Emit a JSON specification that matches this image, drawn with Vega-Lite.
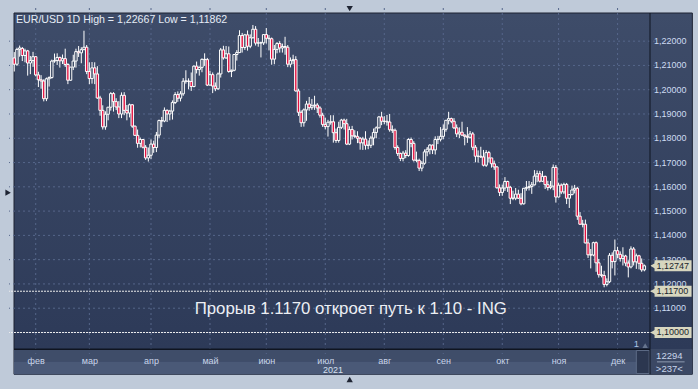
{
"$schema":"https://vega.github.io/schema/vega-lite/v6.json",
"width":646,"height":346,
"padding":{"left":9,"top":8,"right":43,"bottom":35},
"autosize":{"type":"none"},
"background":"#bfcad9",
"config":{"view":{"stroke":null},"font":"Liberation Sans"},
"resolve":{"axis":{"x":"independent","y":"independent"}},
"data":{"values":[{}]},
"datasets":{
"candles":[
{"i":0,"d":"2021-01-20","o":1.2131,"h":1.2155,"l":1.2075,"c":1.2105},
{"i":1,"d":"2021-01-21","o":1.2105,"h":1.2173,"l":1.2098,"c":1.2166},
{"i":2,"d":"2021-01-22","o":1.2166,"h":1.2182,"l":1.2136,"c":1.2172},
{"i":3,"d":"2021-01-25","o":1.2170,"h":1.2176,"l":1.2118,"c":1.2141},
{"i":4,"d":"2021-01-26","o":1.2141,"h":1.2169,"l":1.2113,"c":1.2160},
{"i":5,"d":"2021-01-27","o":1.2160,"h":1.2164,"l":1.2058,"c":1.2110},
{"i":6,"d":"2021-01-28","o":1.2110,"h":1.2139,"l":1.2064,"c":1.2120},
{"i":7,"d":"2021-01-29","o":1.2120,"h":1.2156,"l":1.2094,"c":1.2136},
{"i":8,"d":"2021-02-01","o":1.2136,"h":1.2138,"l":1.2055,"c":1.2061},
{"i":9,"d":"2021-02-02","o":1.2061,"h":1.2074,"l":1.2011,"c":1.2041},
{"i":10,"d":"2021-02-03","o":1.2041,"h":1.2060,"l":1.2004,"c":1.2036},
{"i":11,"d":"2021-02-04","o":1.2036,"h":1.2043,"l":1.1952,"c":1.1963},
{"i":12,"d":"2021-02-05","o":1.1963,"h":1.2050,"l":1.1953,"c":1.2045},
{"i":13,"d":"2021-02-08","o":1.2045,"h":1.2055,"l":1.2013,"c":1.2050},
{"i":14,"d":"2021-02-09","o":1.2050,"h":1.2124,"l":1.2046,"c":1.2118},
{"i":15,"d":"2021-02-10","o":1.2118,"h":1.2149,"l":1.2111,"c":1.2120},
{"i":16,"d":"2021-02-11","o":1.2120,"h":1.2150,"l":1.2102,"c":1.2133},
{"i":17,"d":"2021-02-12","o":1.2133,"h":1.2136,"l":1.2091,"c":1.2119},
{"i":18,"d":"2021-02-15","o":1.2119,"h":1.2145,"l":1.2106,"c":1.2128},
{"i":19,"d":"2021-02-16","o":1.2128,"h":1.2169,"l":1.2094,"c":1.2104},
{"i":20,"d":"2021-02-17","o":1.2104,"h":1.2109,"l":1.2023,"c":1.2039},
{"i":21,"d":"2021-02-18","o":1.2039,"h":1.2094,"l":1.2037,"c":1.2093},
{"i":22,"d":"2021-02-19","o":1.2093,"h":1.2144,"l":1.2081,"c":1.2118},
{"i":23,"d":"2021-02-22","o":1.2118,"h":1.2169,"l":1.2091,"c":1.2157},
{"i":24,"d":"2021-02-23","o":1.2157,"h":1.2180,"l":1.2135,"c":1.2152},
{"i":25,"d":"2021-02-24","o":1.2152,"h":1.2175,"l":1.2109,"c":1.2165},
{"i":26,"d":"2021-02-25","o":1.2165,"h":1.2243,"l":1.2163,"c":1.2175},
{"i":27,"d":"2021-02-26","o":1.2175,"h":1.2184,"l":1.2064,"c":1.2075},
{"i":28,"d":"2021-03-01","o":1.2075,"h":1.2113,"l":1.2023,"c":1.2046},
{"i":29,"d":"2021-03-02","o":1.2046,"h":1.2114,"l":1.2025,"c":1.2090},
{"i":30,"d":"2021-03-03","o":1.2090,"h":1.2113,"l":1.2023,"c":1.2065},
{"i":31,"d":"2021-03-04","o":1.2065,"h":1.2097,"l":1.1963,"c":1.1966},
{"i":32,"d":"2021-03-05","o":1.1966,"h":1.1975,"l":1.1893,"c":1.1915},
{"i":33,"d":"2021-03-08","o":1.1915,"h":1.1936,"l":1.1836,"c":1.1847},
{"i":34,"d":"2021-03-09","o":1.1847,"h":1.1911,"l":1.1835,"c":1.1899},
{"i":35,"d":"2021-03-10","o":1.1899,"h":1.1929,"l":1.1874,"c":1.1928},
{"i":36,"d":"2021-03-11","o":1.1928,"h":1.1990,"l":1.1914,"c":1.1984},
{"i":37,"d":"2021-03-12","o":1.1984,"h":1.1990,"l":1.1910,"c":1.1951},
{"i":38,"d":"2021-03-15","o":1.1951,"h":1.1965,"l":1.1916,"c":1.1929},
{"i":39,"d":"2021-03-16","o":1.1929,"h":1.1953,"l":1.1883,"c":1.1900},
{"i":40,"d":"2021-03-17","o":1.1900,"h":1.1989,"l":1.1883,"c":1.1977},
{"i":41,"d":"2021-03-18","o":1.1977,"h":1.1990,"l":1.1895,"c":1.1915},
{"i":42,"d":"2021-03-19","o":1.1915,"h":1.1937,"l":1.1874,"c":1.1904},
{"i":43,"d":"2021-03-22","o":1.1904,"h":1.1943,"l":1.1886,"c":1.1938},
{"i":44,"d":"2021-03-23","o":1.1938,"h":1.1941,"l":1.1843,"c":1.1850},
{"i":45,"d":"2021-03-24","o":1.1850,"h":1.1852,"l":1.1811,"c":1.1812},
{"i":46,"d":"2021-03-25","o":1.1812,"h":1.1836,"l":1.1761,"c":1.1779},
{"i":47,"d":"2021-03-26","o":1.1779,"h":1.1803,"l":1.1762,"c":1.1795},
{"i":48,"d":"2021-03-29","o":1.1795,"h":1.1797,"l":1.1758,"c":1.1763},
{"i":49,"d":"2021-03-30","o":1.1763,"h":1.1772,"l":1.1711,"c":1.1719},
{"i":50,"d":"2021-03-31","o":1.1719,"h":1.1762,"l":1.1704,"c":1.1730},
{"i":51,"d":"2021-04-01","o":1.1730,"h":1.1795,"l":1.1715,"c":1.1776},
{"i":52,"d":"2021-04-02","o":1.1776,"h":1.1790,"l":1.1740,"c":1.1762},
{"i":53,"d":"2021-04-05","o":1.1762,"h":1.1826,"l":1.1743,"c":1.1813},
{"i":54,"d":"2021-04-06","o":1.1813,"h":1.1877,"l":1.1802,"c":1.1873},
{"i":55,"d":"2021-04-07","o":1.1873,"h":1.1888,"l":1.1846,"c":1.1871},
{"i":56,"d":"2021-04-08","o":1.1871,"h":1.1927,"l":1.1866,"c":1.1915},
{"i":57,"d":"2021-04-09","o":1.1915,"h":1.1919,"l":1.1867,"c":1.1900},
{"i":58,"d":"2021-04-12","o":1.1900,"h":1.1917,"l":1.1874,"c":1.1912},
{"i":59,"d":"2021-04-13","o":1.1912,"h":1.1956,"l":1.1877,"c":1.1947},
{"i":60,"d":"2021-04-14","o":1.1947,"h":1.1990,"l":1.1941,"c":1.1980},
{"i":61,"d":"2021-04-15","o":1.1980,"h":1.1993,"l":1.1950,"c":1.1965},
{"i":62,"d":"2021-04-16","o":1.1965,"h":1.1994,"l":1.1952,"c":1.1983},
{"i":63,"d":"2021-04-19","o":1.1983,"h":1.2048,"l":1.1975,"c":1.2035},
{"i":64,"d":"2021-04-20","o":1.2035,"h":1.2080,"l":1.2025,"c":1.2036},
{"i":65,"d":"2021-04-21","o":1.2036,"h":1.2047,"l":1.2002,"c":1.2034},
{"i":66,"d":"2021-04-22","o":1.2034,"h":1.2071,"l":1.1995,"c":1.2013},
{"i":67,"d":"2021-04-23","o":1.2013,"h":1.2100,"l":1.2010,"c":1.2097},
{"i":68,"d":"2021-04-26","o":1.2097,"h":1.2116,"l":1.2067,"c":1.2083},
{"i":69,"d":"2021-04-27","o":1.2083,"h":1.2096,"l":1.2058,"c":1.2092},
{"i":70,"d":"2021-04-28","o":1.2092,"h":1.2129,"l":1.2072,"c":1.2125},
{"i":71,"d":"2021-04-29","o":1.2125,"h":1.2150,"l":1.2098,"c":1.2124},
{"i":72,"d":"2021-04-30","o":1.2124,"h":1.2131,"l":1.2015,"c":1.2019},
{"i":73,"d":"2021-05-03","o":1.2019,"h":1.2078,"l":1.2017,"c":1.2062},
{"i":74,"d":"2021-05-04","o":1.2062,"h":1.2071,"l":1.1986,"c":1.2015},
{"i":75,"d":"2021-05-05","o":1.2015,"h":1.2030,"l":1.1994,"c":1.2004},
{"i":76,"d":"2021-05-06","o":1.2004,"h":1.2071,"l":1.1999,"c":1.2065},
{"i":77,"d":"2021-05-07","o":1.2065,"h":1.2172,"l":1.2050,"c":1.2164},
{"i":78,"d":"2021-05-10","o":1.2164,"h":1.2181,"l":1.2124,"c":1.2131},
{"i":79,"d":"2021-05-11","o":1.2131,"h":1.2180,"l":1.2127,"c":1.2148},
{"i":80,"d":"2021-05-12","o":1.2148,"h":1.2178,"l":1.2070,"c":1.2075},
{"i":81,"d":"2021-05-13","o":1.2075,"h":1.2083,"l":1.2052,"c":1.2080},
{"i":82,"d":"2021-05-14","o":1.2080,"h":1.2146,"l":1.2076,"c":1.2145},
{"i":83,"d":"2021-05-17","o":1.2145,"h":1.2163,"l":1.2120,"c":1.2153},
{"i":84,"d":"2021-05-18","o":1.2153,"h":1.2245,"l":1.2151,"c":1.2223},
{"i":85,"d":"2021-05-19","o":1.2223,"h":1.2234,"l":1.2153,"c":1.2174},
{"i":86,"d":"2021-05-20","o":1.2174,"h":1.2230,"l":1.2164,"c":1.2226},
{"i":87,"d":"2021-05-21","o":1.2226,"h":1.2244,"l":1.2161,"c":1.2179},
{"i":88,"d":"2021-05-24","o":1.2179,"h":1.2228,"l":1.2171,"c":1.2214},
{"i":89,"d":"2021-05-25","o":1.2214,"h":1.22667,"l":1.2211,"c":1.2249},
{"i":90,"d":"2021-05-26","o":1.2249,"h":1.2262,"l":1.2182,"c":1.2192},
{"i":91,"d":"2021-05-27","o":1.2192,"h":1.2213,"l":1.2177,"c":1.2193},
{"i":92,"d":"2021-05-28","o":1.2193,"h":1.2198,"l":1.2133,"c":1.2193},
{"i":93,"d":"2021-05-31","o":1.2193,"h":1.2229,"l":1.2184,"c":1.2227},
{"i":94,"d":"2021-06-01","o":1.2227,"h":1.2254,"l":1.2190,"c":1.2212},
{"i":95,"d":"2021-06-02","o":1.2212,"h":1.2225,"l":1.2162,"c":1.2210},
{"i":96,"d":"2021-06-03","o":1.2210,"h":1.2215,"l":1.2103,"c":1.2126},
{"i":97,"d":"2021-06-04","o":1.2126,"h":1.2184,"l":1.2105,"c":1.2166},
{"i":98,"d":"2021-06-07","o":1.2166,"h":1.2196,"l":1.2150,"c":1.2190},
{"i":99,"d":"2021-06-08","o":1.2190,"h":1.2200,"l":1.2153,"c":1.2172},
{"i":100,"d":"2021-06-09","o":1.2172,"h":1.2190,"l":1.2153,"c":1.2178},
{"i":101,"d":"2021-06-10","o":1.2178,"h":1.2218,"l":1.2144,"c":1.2175},
{"i":102,"d":"2021-06-11","o":1.2175,"h":1.2184,"l":1.2093,"c":1.2105},
{"i":103,"d":"2021-06-14","o":1.2105,"h":1.2133,"l":1.2092,"c":1.2120},
{"i":104,"d":"2021-06-15","o":1.2120,"h":1.2144,"l":1.2105,"c":1.2124},
{"i":105,"d":"2021-06-16","o":1.2124,"h":1.2138,"l":1.1992,"c":1.1995},
{"i":106,"d":"2021-06-17","o":1.1995,"h":1.2004,"l":1.1892,"c":1.1907},
{"i":107,"d":"2021-06-18","o":1.1907,"h":1.1915,"l":1.1847,"c":1.1864},
{"i":108,"d":"2021-06-21","o":1.1864,"h":1.1923,"l":1.1848,"c":1.1917},
{"i":109,"d":"2021-06-22","o":1.1917,"h":1.1954,"l":1.1872,"c":1.1941},
{"i":110,"d":"2021-06-23","o":1.1941,"h":1.1970,"l":1.1913,"c":1.1926},
{"i":111,"d":"2021-06-24","o":1.1926,"h":1.1962,"l":1.1917,"c":1.1934},
{"i":112,"d":"2021-06-25","o":1.1934,"h":1.1975,"l":1.1917,"c":1.1937},
{"i":113,"d":"2021-06-28","o":1.1937,"h":1.1945,"l":1.1904,"c":1.1925},
{"i":114,"d":"2021-06-29","o":1.1925,"h":1.1932,"l":1.1885,"c":1.1895},
{"i":115,"d":"2021-06-30","o":1.1895,"h":1.1905,"l":1.1847,"c":1.1857},
{"i":116,"d":"2021-07-01","o":1.1857,"h":1.1885,"l":1.1837,"c":1.1848},
{"i":117,"d":"2021-07-02","o":1.1848,"h":1.1876,"l":1.1807,"c":1.1866},
{"i":118,"d":"2021-07-05","o":1.1866,"h":1.1895,"l":1.1856,"c":1.1868},
{"i":119,"d":"2021-07-06","o":1.1868,"h":1.1895,"l":1.1782,"c":1.1823},
{"i":120,"d":"2021-07-07","o":1.1823,"h":1.1840,"l":1.1781,"c":1.1791},
{"i":121,"d":"2021-07-08","o":1.1791,"h":1.1868,"l":1.1782,"c":1.1845},
{"i":122,"d":"2021-07-09","o":1.1845,"h":1.1880,"l":1.1838,"c":1.1875},
{"i":123,"d":"2021-07-12","o":1.1875,"h":1.1881,"l":1.1836,"c":1.1860},
{"i":124,"d":"2021-07-13","o":1.1860,"h":1.1880,"l":1.1772,"c":1.1776},
{"i":125,"d":"2021-07-14","o":1.1776,"h":1.1849,"l":1.1772,"c":1.1836},
{"i":126,"d":"2021-07-15","o":1.1836,"h":1.1851,"l":1.1795,"c":1.1810},
{"i":127,"d":"2021-07-16","o":1.1810,"h":1.1833,"l":1.1801,"c":1.1808},
{"i":128,"d":"2021-07-19","o":1.1808,"h":1.1829,"l":1.1780,"c":1.1800},
{"i":129,"d":"2021-07-20","o":1.1800,"h":1.1805,"l":1.1753,"c":1.1781},
{"i":130,"d":"2021-07-21","o":1.1781,"h":1.1806,"l":1.1752,"c":1.1797},
{"i":131,"d":"2021-07-22","o":1.1797,"h":1.1829,"l":1.1753,"c":1.1771},
{"i":132,"d":"2021-07-23","o":1.1771,"h":1.1791,"l":1.1755,"c":1.1771},
{"i":133,"d":"2021-07-26","o":1.1771,"h":1.1810,"l":1.1760,"c":1.1801},
{"i":134,"d":"2021-07-27","o":1.1801,"h":1.1840,"l":1.1771,"c":1.1824},
{"i":135,"d":"2021-07-28","o":1.1824,"h":1.1849,"l":1.1800,"c":1.1843},
{"i":136,"d":"2021-07-29","o":1.1843,"h":1.1892,"l":1.1841,"c":1.1888},
{"i":137,"d":"2021-07-30","o":1.1888,"h":1.1909,"l":1.1854,"c":1.1870},
{"i":138,"d":"2021-08-02","o":1.1870,"h":1.1891,"l":1.1858,"c":1.1870},
{"i":139,"d":"2021-08-03","o":1.1870,"h":1.1896,"l":1.1852,"c":1.1867},
{"i":140,"d":"2021-08-04","o":1.1867,"h":1.1900,"l":1.1827,"c":1.1835},
{"i":141,"d":"2021-08-05","o":1.1835,"h":1.1853,"l":1.1822,"c":1.1833},
{"i":142,"d":"2021-08-06","o":1.1833,"h":1.1840,"l":1.1753,"c":1.1762},
{"i":143,"d":"2021-08-09","o":1.1762,"h":1.1771,"l":1.1727,"c":1.1737},
{"i":144,"d":"2021-08-10","o":1.1737,"h":1.1741,"l":1.1706,"c":1.1717},
{"i":145,"d":"2021-08-11","o":1.1717,"h":1.1748,"l":1.1705,"c":1.1739},
{"i":146,"d":"2021-08-12","o":1.1739,"h":1.1751,"l":1.1718,"c":1.1729},
{"i":147,"d":"2021-08-13","o":1.1729,"h":1.1800,"l":1.1724,"c":1.1795},
{"i":148,"d":"2021-08-16","o":1.1795,"h":1.1803,"l":1.1763,"c":1.1779},
{"i":149,"d":"2021-08-17","o":1.1779,"h":1.1788,"l":1.1704,"c":1.1710},
{"i":150,"d":"2021-08-18","o":1.1710,"h":1.1745,"l":1.1701,"c":1.1709},
{"i":151,"d":"2021-08-19","o":1.1709,"h":1.1716,"l":1.1665,"c":1.1677},
{"i":152,"d":"2021-08-20","o":1.1677,"h":1.1706,"l":1.1664,"c":1.1697},
{"i":153,"d":"2021-08-23","o":1.1697,"h":1.1754,"l":1.1691,"c":1.1744},
{"i":154,"d":"2021-08-24","o":1.1744,"h":1.1764,"l":1.1726,"c":1.1755},
{"i":155,"d":"2021-08-25","o":1.1755,"h":1.1776,"l":1.1734,"c":1.1772},
{"i":156,"d":"2021-08-26","o":1.1772,"h":1.1774,"l":1.1735,"c":1.1752},
{"i":157,"d":"2021-08-27","o":1.1752,"h":1.1808,"l":1.1733,"c":1.1795},
{"i":158,"d":"2021-08-30","o":1.1795,"h":1.1810,"l":1.1776,"c":1.1796},
{"i":159,"d":"2021-08-31","o":1.1796,"h":1.1846,"l":1.1787,"c":1.1808},
{"i":160,"d":"2021-09-01","o":1.1808,"h":1.1857,"l":1.1796,"c":1.1837},
{"i":161,"d":"2021-09-02","o":1.1837,"h":1.1873,"l":1.1827,"c":1.1874},
{"i":162,"d":"2021-09-03","o":1.1874,"h":1.1909,"l":1.1857,"c":1.1881},
{"i":163,"d":"2021-09-06","o":1.1881,"h":1.1885,"l":1.1862,"c":1.1870},
{"i":164,"d":"2021-09-07","o":1.1870,"h":1.1883,"l":1.1838,"c":1.1843},
{"i":165,"d":"2021-09-08","o":1.1843,"h":1.1857,"l":1.1805,"c":1.1818},
{"i":166,"d":"2021-09-09","o":1.1818,"h":1.1845,"l":1.1801,"c":1.1825},
{"i":167,"d":"2021-09-10","o":1.1825,"h":1.1868,"l":1.1809,"c":1.1813},
{"i":168,"d":"2021-09-13","o":1.1813,"h":1.1816,"l":1.1771,"c":1.1808},
{"i":169,"d":"2021-09-14","o":1.1808,"h":1.1846,"l":1.1781,"c":1.1804},
{"i":170,"d":"2021-09-15","o":1.1804,"h":1.1830,"l":1.1799,"c":1.1818},
{"i":171,"d":"2021-09-16","o":1.1818,"h":1.1826,"l":1.1751,"c":1.1763},
{"i":172,"d":"2021-09-17","o":1.1763,"h":1.1772,"l":1.1701,"c":1.1726},
{"i":173,"d":"2021-09-20","o":1.1726,"h":1.1750,"l":1.1700,"c":1.1726},
{"i":174,"d":"2021-09-21","o":1.1726,"h":1.1765,"l":1.1719,"c":1.1723},
{"i":175,"d":"2021-09-22","o":1.1723,"h":1.1752,"l":1.1684,"c":1.1689},
{"i":176,"d":"2021-09-23","o":1.1689,"h":1.1751,"l":1.1682,"c":1.1741},
{"i":177,"d":"2021-09-24","o":1.1741,"h":1.1748,"l":1.1701,"c":1.1719},
{"i":178,"d":"2021-09-27","o":1.1719,"h":1.1719,"l":1.1679,"c":1.1695},
{"i":179,"d":"2021-09-28","o":1.1695,"h":1.1708,"l":1.1670,"c":1.1682},
{"i":180,"d":"2021-09-29","o":1.1682,"h":1.1686,"l":1.1593,"c":1.1596},
{"i":181,"d":"2021-09-30","o":1.1596,"h":1.1610,"l":1.1562,"c":1.1577},
{"i":182,"d":"2021-10-01","o":1.1577,"h":1.1609,"l":1.1563,"c":1.1595},
{"i":183,"d":"2021-10-04","o":1.1595,"h":1.1640,"l":1.1583,"c":1.1622},
{"i":184,"d":"2021-10-05","o":1.1622,"h":1.1625,"l":1.1579,"c":1.1598},
{"i":185,"d":"2021-10-06","o":1.1598,"h":1.1604,"l":1.1529,"c":1.1553},
{"i":186,"d":"2021-10-07","o":1.1553,"h":1.1584,"l":1.1545,"c":1.1553},
{"i":187,"d":"2021-10-08","o":1.1553,"h":1.1595,"l":1.1545,"c":1.1570},
{"i":188,"d":"2021-10-11","o":1.1570,"h":1.1588,"l":1.1550,"c":1.1553},
{"i":189,"d":"2021-10-12","o":1.1553,"h":1.1574,"l":1.1524,"c":1.1530},
{"i":190,"d":"2021-10-13","o":1.1530,"h":1.1595,"l":1.1527,"c":1.1594},
{"i":191,"d":"2021-10-14","o":1.1594,"h":1.1624,"l":1.1584,"c":1.1597},
{"i":192,"d":"2021-10-15","o":1.1597,"h":1.1624,"l":1.1585,"c":1.1601},
{"i":193,"d":"2021-10-18","o":1.1601,"h":1.1620,"l":1.1571,"c":1.1608},
{"i":194,"d":"2021-10-19","o":1.1608,"h":1.1669,"l":1.1606,"c":1.1644},
{"i":195,"d":"2021-10-20","o":1.1644,"h":1.1667,"l":1.1619,"c":1.1654},
{"i":196,"d":"2021-10-21","o":1.1654,"h":1.1666,"l":1.1618,"c":1.1623},
{"i":197,"d":"2021-10-22","o":1.1623,"h":1.1665,"l":1.1620,"c":1.1643},
{"i":198,"d":"2021-10-25","o":1.1643,"h":1.1646,"l":1.1591,"c":1.1609},
{"i":199,"d":"2021-10-26","o":1.1609,"h":1.1625,"l":1.1585,"c":1.1597},
{"i":200,"d":"2021-10-27","o":1.1597,"h":1.1624,"l":1.1590,"c":1.1603},
{"i":201,"d":"2021-10-28","o":1.1603,"h":1.1692,"l":1.1586,"c":1.1680},
{"i":202,"d":"2021-10-29","o":1.1680,"h":1.1690,"l":1.1535,"c":1.1558},
{"i":203,"d":"2021-11-01","o":1.1558,"h":1.1617,"l":1.1556,"c":1.1607},
{"i":204,"d":"2021-11-02","o":1.1607,"h":1.1614,"l":1.1570,"c":1.1579},
{"i":205,"d":"2021-11-03","o":1.1579,"h":1.1617,"l":1.1570,"c":1.1610},
{"i":206,"d":"2021-11-04","o":1.1610,"h":1.1616,"l":1.1529,"c":1.1553},
{"i":207,"d":"2021-11-05","o":1.1553,"h":1.1570,"l":1.1513,"c":1.1568},
{"i":208,"d":"2021-11-08","o":1.1568,"h":1.1605,"l":1.1565,"c":1.1587},
{"i":209,"d":"2021-11-09","o":1.1587,"h":1.1608,"l":1.1573,"c":1.1594},
{"i":210,"d":"2021-11-10","o":1.1594,"h":1.1600,"l":1.1464,"c":1.1479},
{"i":211,"d":"2021-11-11","o":1.1479,"h":1.1496,"l":1.1443,"c":1.1446},
{"i":212,"d":"2021-11-12","o":1.1446,"h":1.1464,"l":1.1433,"c":1.1446},
{"i":213,"d":"2021-11-15","o":1.1446,"h":1.1465,"l":1.1367,"c":1.1369},
{"i":214,"d":"2021-11-16","o":1.1369,"h":1.1386,"l":1.1307,"c":1.1320},
{"i":215,"d":"2021-11-17","o":1.1320,"h":1.1344,"l":1.1264,"c":1.1319},
{"i":216,"d":"2021-11-18","o":1.1319,"h":1.1374,"l":1.1314,"c":1.1370},
{"i":217,"d":"2021-11-19","o":1.1370,"h":1.1375,"l":1.1250,"c":1.1287},
{"i":218,"d":"2021-11-22","o":1.1287,"h":1.1303,"l":1.1226,"c":1.1238},
{"i":219,"d":"2021-11-23","o":1.1238,"h":1.1275,"l":1.1227,"c":1.1235},
{"i":220,"d":"2021-11-24","o":1.1235,"h":1.1254,"l":1.11862,"c":1.1198},
{"i":221,"d":"2021-11-25","o":1.1198,"h":1.1223,"l":1.1190,"c":1.1209},
{"i":222,"d":"2021-11-26","o":1.1209,"h":1.1327,"l":1.1204,"c":1.1318},
{"i":223,"d":"2021-11-29","o":1.1318,"h":1.1330,"l":1.1264,"c":1.1292},
{"i":224,"d":"2021-11-30","o":1.1292,"h":1.1383,"l":1.1235,"c":1.1337},
{"i":225,"d":"2021-12-01","o":1.1337,"h":1.1353,"l":1.1306,"c":1.1322},
{"i":226,"d":"2021-12-02","o":1.1322,"h":1.1334,"l":1.1292,"c":1.1305},
{"i":227,"d":"2021-12-03","o":1.1305,"h":1.1351,"l":1.1276,"c":1.1315},
{"i":228,"d":"2021-12-06","o":1.1315,"h":1.1320,"l":1.1273,"c":1.1286},
{"i":229,"d":"2021-12-07","o":1.1286,"h":1.1297,"l":1.1227,"c":1.1270},
{"i":230,"d":"2021-12-08","o":1.1270,"h":1.1355,"l":1.1264,"c":1.1344},
{"i":231,"d":"2021-12-09","o":1.1344,"h":1.1352,"l":1.1276,"c":1.1291},
{"i":232,"d":"2021-12-10","o":1.1291,"h":1.1325,"l":1.1262,"c":1.1316},
{"i":233,"d":"2021-12-13","o":1.1316,"h":1.1320,"l":1.1260,"c":1.1285},
{"i":234,"d":"2021-12-14","o":1.1285,"h":1.1305,"l":1.1250,"c":1.1258},
{"i":235,"d":"2021-12-15","o":1.1258,"h":1.1280,"l":1.1252,"c":1.12747}
],
"ylev":[{"v":1.10},{"v":1.11},{"v":1.12},{"v":1.13},{"v":1.14},{"v":1.15},{"v":1.16},{"v":1.17},{"v":1.18},{"v":1.19},{"v":1.20},{"v":1.21},{"v":1.22}],
"ylab":[{"v":1.11,"lab":"1,11000"},{"v":1.12,"lab":"1,12000"},{"v":1.13,"lab":"1,13000"},{"v":1.14,"lab":"1,14000"},{"v":1.15,"lab":"1,15000"},{"v":1.16,"lab":"1,16000"},{"v":1.17,"lab":"1,17000"},{"v":1.18,"lab":"1,18000"},{"v":1.19,"lab":"1,19000"},{"v":1.20,"lab":"1,20000"},{"v":1.21,"lab":"1,21000"},{"v":1.22,"lab":"1,22000"}],
"months":[{"i":8,"m":"фев"},{"i":28,"m":"мар"},{"i":51,"m":"апр"},{"i":73,"m":"май"},{"i":94,"m":"июн"},{"i":116,"m":"июл"},{"i":138,"m":"авг"},{"i":160,"m":"сен"},{"i":182,"m":"окт"},{"i":203,"m":"ноя"},{"i":225,"m":"дек"}],
"levels":[{"p":1.117},{"p":1.10}],
"tags":[{"p":1.12747,"lab":"1,12747"},{"p":1.117,"lab":"1,11700"},{"p":1.10,"lab":"1,10000"}]
},
"layer":[
{"mark":{"type":"rect","stroke":"#1c2333","strokeWidth":1,"fill":{"gradient":"linear","x1":0,"y1":0,"x2":0,"y2":1,"stops":[{"offset":0,"color":"#3e4c69"},{"offset":0.93,"color":"#2d3a58"},{"offset":1,"color":"#2d3a58"}]}},
 "encoding":{"x":{"datum":-0.1,"type":"quantitative","scale":{"domain":[-0.1,237.1],"nice":false,"zero":false},"axis":null},"x2":{"datum":252.9},
 "y":{"datum":1.0828,"type":"quantitative","scale":{"domain":[1.0932,1.2316],"nice":false,"zero":false},"axis":null},"y2":{"datum":1.2316}}},
{"mark":{"type":"rect","fill":"#3f4d69"},
 "encoding":{"x":{"datum":-0.1,"type":"quantitative","scale":{"domain":[-0.1,237.1],"nice":false,"zero":false},"axis":null},"x2":{"datum":237.1},
 "y":{"datum":1.0880,"type":"quantitative","scale":{"domain":[1.0932,1.2316],"nice":false,"zero":false},"axis":null},"y2":{"datum":1.0932}}},
{"mark":{"type":"rect","fill":"#4a5977"},
 "encoding":{"x":{"datum":-0.1,"type":"quantitative","scale":{"domain":[-0.1,237.1],"nice":false,"zero":false},"axis":null},"x2":{"datum":237.1},
 "y":{"datum":1.0828,"type":"quantitative","scale":{"domain":[1.0932,1.2316],"nice":false,"zero":false},"axis":null},"y2":{"datum":1.0880}}},
{"mark":{"type":"rect","fill":"#3b4864"},
 "encoding":{"x":{"datum":237.1,"type":"quantitative","scale":{"domain":[-0.1,237.1],"nice":false,"zero":false},"axis":null},"x2":{"datum":252.9},
 "y":{"datum":1.0828,"type":"quantitative","scale":{"domain":[1.0932,1.2316],"nice":false,"zero":false},"axis":null},"y2":{"datum":1.0932}}},
{"mark":{"type":"rect","fill":"#2c3750","stroke":"#5d6b86","strokeWidth":1},
 "encoding":{"x":{"datum":232.0,"type":"quantitative","scale":{"domain":[-0.1,237.1],"nice":false,"zero":false},"axis":null},"x2":{"datum":236.8},
 "y":{"datum":1.0831,"type":"quantitative","scale":{"domain":[1.0932,1.2316],"nice":false,"zero":false},"axis":null},"y2":{"datum":1.0926}}},
{"data":{"name":"ylev"},"mark":{"type":"rule","color":"#56668a","strokeDash":[2,3],"strokeWidth":1},
 "encoding":{"y":{"field":"v","type":"quantitative","scale":{"domain":[1.0932,1.2316],"nice":false,"zero":false},"axis":null}}},
{"data":{"name":"months"},"mark":{"type":"rule","color":"#56668a","strokeDash":[2,3],"strokeWidth":1},
 "encoding":{"x":{"field":"i","type":"quantitative","scale":{"domain":[-0.1,237.1],"nice":false,"zero":false},"axis":null}}},
{"data":{"name":"levels"},"mark":{"type":"rule","color":"#eeeeee","strokeDash":[2,1],"strokeWidth":1},
 "encoding":{"y":{"field":"p","type":"quantitative","scale":{"domain":[1.0932,1.2316],"nice":false,"zero":false},"axis":null}}},
{"data":{"name":"candles"},"mark":{"type":"rule","color":"#ffffff","strokeWidth":1},
 "encoding":{"x":{"field":"i","type":"quantitative","scale":{"domain":[-0.1,237.1],"nice":false,"zero":false},"axis":null},
 "y":{"field":"l","type":"quantitative","scale":{"domain":[1.0932,1.2316],"nice":false,"zero":false},"axis":null},"y2":{"field":"h"}}},
{"data":{"name":"candles"},"mark":{"type":"bar","width":2.4,"stroke":"#ffffff","strokeWidth":1},
 "encoding":{"x":{"field":"i","type":"quantitative","scale":{"domain":[-0.1,237.1],"nice":false,"zero":false},
   "axis":{"orient":"bottom","values":[8,28,51,73,94,116,138,160,182,203,225],"labelExpr":"datum.value==8?'фев':datum.value==28?'мар':datum.value==51?'апр':datum.value==73?'май':datum.value==94?'июн':datum.value==116?'июл':datum.value==138?'авг':datum.value==160?'сен':datum.value==182?'окт':datum.value==203?'ноя':'дек'","grid":false,"ticks":false,"tickSize":0,"domain":false,"labelPadding":2,"labelFontSize":9,"labelColor":"#c9d5ea","labelFont":"Liberation Sans","labelBaseline":"top","labelFlush":false,"labelOverlap":false,"title":null,"zindex":1}},
 "y":{"field":"o","type":"quantitative","scale":{"domain":[1.0932,1.2316],"nice":false,"zero":false},"axis":null},
 "y2":{"field":"c"},
 "fill":{"condition":{"test":"datum.c < datum.o","value":"#e3103f"},"value":"#36445f"}}},
{"mark":{"type":"text","text":"Прорыв 1.1170 откроет путь к 1.10 - ING","fontSize":16.8,"font":"Liberation Sans","color":"#eceff4","align":"center","baseline":"alphabetic"},
 "encoding":{"x":{"datum":125.5,"type":"quantitative","scale":{"domain":[-0.1,237.1],"nice":false,"zero":false},"axis":null},
 "y":{"datum":1.1075,"type":"quantitative","scale":{"domain":[1.0932,1.2316],"nice":false,"zero":false},"axis":null}}},
{"mark":{"type":"text","text":"EUR/USD 1D High = 1,22667 Low = 1,11862","fontSize":10.6,"font":"Liberation Sans","color":"#e6ecf6","align":"left","baseline":"alphabetic"},
 "encoding":{"x":{"datum":0.66,"type":"quantitative","scale":{"domain":[-0.1,237.1],"nice":false,"zero":false},"axis":null},
 "y":{"datum":1.2276,"type":"quantitative","scale":{"domain":[1.0932,1.2316],"nice":false,"zero":false},"axis":null}}},
{"data":{"name":"ylab"},"mark":{"type":"text","fontSize":9,"font":"Liberation Sans","color":"#cddcf2","align":"left","baseline":"middle"},
 "encoding":{"x":{"datum":238.6,"type":"quantitative","scale":{"domain":[-0.1,237.1],"nice":false,"zero":false},"axis":null},
 "y":{"field":"v","type":"quantitative","scale":{"domain":[1.0932,1.2316],"nice":false,"zero":false},"axis":null},"text":{"field":"lab"}}},
{"data":{"name":"tags"},"mark":{"type":"bar","size":11,"fill":"#d7d6bf","orient":"horizontal"},
 "encoding":{"x":{"datum":238.8,"type":"quantitative","scale":{"domain":[-0.1,237.1],"nice":false,"zero":false},"axis":null},"x2":{"datum":252.6},
 "y":{"field":"p","type":"quantitative","scale":{"domain":[1.0932,1.2316],"nice":false,"zero":false},"axis":null}}},
{"data":{"name":"tags"},"mark":{"type":"point","shape":"triangle-left","size":45,"filled":true,"fill":"#d7d6bf","opacity":1,"strokeWidth":0},
 "encoding":{"x":{"datum":238.3,"type":"quantitative","scale":{"domain":[-0.1,237.1],"nice":false,"zero":false},"axis":null},
 "y":{"field":"p","type":"quantitative","scale":{"domain":[1.0932,1.2316],"nice":false,"zero":false},"axis":null}}},
{"data":{"name":"tags"},"mark":{"type":"text","fontSize":9,"font":"Liberation Sans","color":"#1a1f2e","align":"left","baseline":"middle"},
 "encoding":{"x":{"datum":239.5,"type":"quantitative","scale":{"domain":[-0.1,237.1],"nice":false,"zero":false},"axis":null},
 "y":{"field":"p","type":"quantitative","scale":{"domain":[1.0932,1.2316],"nice":false,"zero":false},"axis":null},"text":{"field":"lab"}}},
{"mark":{"type":"rule","color":"#0f1420","strokeWidth":1},
 "encoding":{"x":{"datum":237.1,"type":"quantitative","scale":{"domain":[-0.1,237.1],"nice":false,"zero":false},"axis":null},
 "y":{"datum":1.0828,"type":"quantitative","scale":{"domain":[1.0932,1.2316],"nice":false,"zero":false},"axis":null},"y2":{"datum":1.2316}}},
{"mark":{"type":"rule","color":"#0f1420","strokeWidth":1.5},
 "encoding":{"x":{"datum":-0.1,"type":"quantitative","scale":{"domain":[-0.1,237.1],"nice":false,"zero":false},"axis":null},"x2":{"datum":237.1},
 "y":{"datum":1.0931,"type":"quantitative","scale":{"domain":[1.0932,1.2316],"nice":false,"zero":false},"axis":null}}},
{"mark":{"type":"rule","color":"#8d9ab0","strokeWidth":1},
 "encoding":{"x":{"datum":239.7,"type":"quantitative","scale":{"domain":[-0.1,237.1],"nice":false,"zero":false},"axis":null},"x2":{"datum":250.0},
 "y":{"datum":1.0879,"type":"quantitative","scale":{"domain":[1.0932,1.2316],"nice":false,"zero":false},"axis":null}}},
{"mark":{"type":"text","text":"12294","fontSize":9.5,"font":"Liberation Sans","color":"#c8d5ea","align":"center","baseline":"middle"},
 "encoding":{"x":{"datum":244.3,"type":"quantitative","scale":{"domain":[-0.1,237.1],"nice":false,"zero":false},"axis":null},
 "y":{"datum":1.0905,"type":"quantitative","scale":{"domain":[1.0932,1.2316],"nice":false,"zero":false},"axis":null}}},
{"mark":{"type":"text","text":">237<","fontSize":9.5,"font":"Liberation Sans","color":"#c8d5ea","align":"center","baseline":"middle"},
 "encoding":{"x":{"datum":244.3,"type":"quantitative","scale":{"domain":[-0.1,237.1],"nice":false,"zero":false},"axis":null},
 "y":{"datum":1.0851,"type":"quantitative","scale":{"domain":[1.0932,1.2316],"nice":false,"zero":false},"axis":null}}},
{"mark":{"type":"text","text":"2021","fontSize":9,"font":"Liberation Sans","color":"#d6e0f0","align":"right","baseline":"middle"},
 "encoding":{"x":{"datum":122.6,"type":"quantitative","scale":{"domain":[-0.1,237.1],"nice":false,"zero":false},"axis":null},
 "y":{"datum":1.0844,"type":"quantitative","scale":{"domain":[1.0932,1.2316],"nice":false,"zero":false},"axis":null}}},
{"mark":{"type":"text","text":"1","fontSize":9.5,"font":"Liberation Sans","color":"#a9c4e6","align":"center","baseline":"middle"},
 "encoding":{"x":{"datum":232.0,"type":"quantitative","scale":{"domain":[-0.1,237.1],"nice":false,"zero":false},"axis":null},
 "y":{"datum":1.0952,"type":"quantitative","scale":{"domain":[1.0932,1.2316],"nice":false,"zero":false},"axis":null}}},
{"mark":{"type":"point","shape":"triangle-up","size":30,"filled":true,"fill":"#66748e","opacity":1,"strokeWidth":0},
 "encoding":{"x":{"datum":235.3,"type":"quantitative","scale":{"domain":[-0.1,237.1],"nice":false,"zero":false},"axis":null},
 "y":{"datum":1.0946,"type":"quantitative","scale":{"domain":[1.0932,1.2316],"nice":false,"zero":false},"axis":null}}},
{"mark":{"type":"point","shape":"triangle-down","size":40,"filled":true,"fill":"#1e2433","opacity":1,"strokeWidth":0},
 "encoding":{"x":{"datum":125.1,"type":"quantitative","scale":{"domain":[-0.1,237.1],"nice":false,"zero":false},"axis":null},
 "y":{"datum":1.2334,"type":"quantitative","scale":{"domain":[1.0932,1.2316],"nice":false,"zero":false},"axis":null}}},
{"mark":{"type":"point","shape":"triangle-right","size":40,"filled":true,"fill":"#1e2433","opacity":1,"strokeWidth":0},
 "encoding":{"x":{"datum":-2.3,"type":"quantitative","scale":{"domain":[-0.1,237.1],"nice":false,"zero":false},"axis":null},
 "y":{"datum":1.1576,"type":"quantitative","scale":{"domain":[1.0932,1.2316],"nice":false,"zero":false},"axis":null}}},
{"mark":{"type":"point","shape":"triangle-up","size":40,"filled":true,"fill":"#1e2433","opacity":1,"strokeWidth":0},
 "encoding":{"x":{"datum":125.1,"type":"quantitative","scale":{"domain":[-0.1,237.1],"nice":false,"zero":false},"axis":null},
 "y":{"datum":1.0806,"type":"quantitative","scale":{"domain":[1.0932,1.2316],"nice":false,"zero":false},"axis":null}}}
]
}
